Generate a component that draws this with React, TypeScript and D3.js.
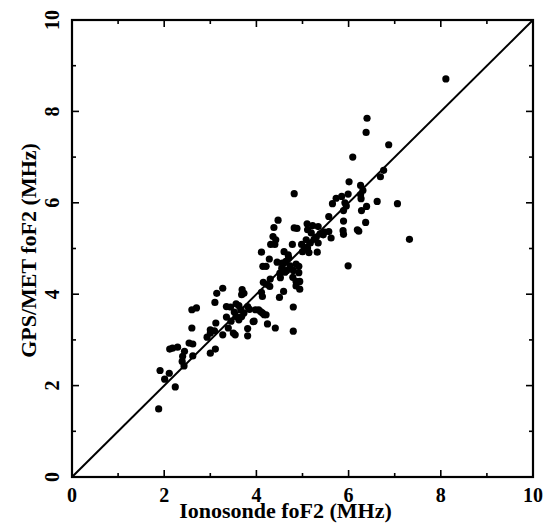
import * as d3 from 'd3';
import React, { useEffect, useRef } from 'react';

// ionosonde foF2 (MHz), x values
const ionosonde = [
  8.11, 6.40, 6.38, 6.87, 6.09, 6.69, 6.76, 6.01, 6.26, 6.31, 6.26, 6.27, 6.39, 6.62, 7.06, 7.32, 5.99,
  4.82, 5.99, 5.85, 5.73, 5.65, 5.92, 5.95, 5.89, 6.28, 5.57, 5.89, 6.37, 6.19, 6.22, 5.88, 5.89, 5.57,
  5.62, 5.48, 5.34, 5.38, 5.30, 5.22, 5.10, 5.11, 5.19, 5.08, 5.17, 5.34, 4.98, 5.11, 5.00, 5.14, 5.32,
  4.88, 4.47, 4.38, 4.36, 4.42, 4.31, 4.40, 4.78, 4.11, 4.60, 4.69, 4.28, 4.45, 4.14, 4.21, 4.56, 4.64,
  4.55, 4.73, 4.92, 4.86, 4.66, 4.80, 4.51, 4.92, 4.79, 4.52, 4.30, 4.15, 4.23, 4.86, 4.94, 4.86, 4.94,
  4.29, 4.59, 4.13, 4.11, 4.50, 4.80, 4.80, 4.41, 4.24, 4.13, 4.17, 4.05, 3.98, 4.09, 4.21, 3.95, 3.81,
  3.81, 3.93, 3.69, 3.73, 3.68, 3.27, 3.14, 3.10, 3.35, 3.44, 3.56, 3.62, 3.81, 3.85, 3.66, 3.52, 3.73,
  3.56, 3.68, 3.62, 3.35, 3.45, 3.39, 3.50, 3.54, 3.27, 3.12, 3.09, 3.00, 2.93, 3.00, 3.00, 3.11, 2.60,
  2.60, 2.70, 2.54, 2.62, 2.62, 2.29, 2.12, 2.18, 2.44, 2.40, 2.39, 2.43, 1.91, 2.01, 2.11, 2.24, 1.88,
  4.82, 5.05, 5.25, 5.45, 4.70, 4.62,
];

// GPS/MET foF2 (MHz), y values
const gpsMet = [
  8.71, 7.85, 7.54, 7.27, 7.00, 6.57, 6.71, 6.46, 6.38, 6.27, 6.18, 6.09, 5.92, 6.03, 5.98, 5.20, 4.62,
  6.20, 6.19, 6.14, 6.10, 5.98, 6.00, 5.93, 5.83, 5.83, 5.70, 5.60, 5.57, 5.41, 5.38, 5.39, 5.31, 5.37,
  5.23, 5.36, 5.48, 5.32, 5.25, 5.50, 5.54, 5.41, 5.34, 5.19, 5.12, 5.12, 5.09, 5.01, 4.93, 4.91, 4.92,
  5.44, 5.62, 5.46, 5.26, 5.19, 5.09, 5.09, 5.09, 4.92, 4.93, 4.86, 4.77, 4.70, 4.61, 4.61, 4.68, 4.72,
  4.57, 4.62, 4.61, 4.66, 4.52, 4.52, 4.46, 4.47, 4.37, 4.36, 4.33, 4.26, 4.21, 4.28, 4.28, 4.18, 4.11,
  4.17, 4.06, 3.95, 4.04, 3.93, 3.72, 3.19, 3.26, 3.35, 3.59, 3.55, 3.66, 3.66, 3.62, 3.55, 3.41, 3.25,
  3.09, 3.40, 4.10, 4.02, 3.99, 4.13, 4.02, 3.82, 3.73, 3.72, 3.79, 3.75, 3.73, 3.67, 3.66, 3.61, 3.59,
  3.51, 3.51, 3.44, 3.50, 3.41, 3.26, 3.15, 3.11, 3.11, 3.37, 3.20, 3.22, 3.06, 3.15, 2.71, 2.80, 3.26,
  3.66, 3.70, 2.93, 2.91, 2.65, 2.84, 2.80, 2.82, 2.75, 2.64, 2.53, 2.43, 2.33, 2.14, 2.27, 1.97, 1.49,
  5.45, 5.02, 5.20, 5.30, 4.80, 4.48,
];

const majorTicks = [0, 2, 4, 6, 8, 10];
const minorTicks = [1, 3, 5, 7, 9];

const xTitle = 'Ionosonde foF2 (MHz)';
const yTitle = 'GPS/MET foF2 (MHz)';

export default function App() {
  const ref = useRef<SVGSVGElement>(null);

  useEffect(() => {
    const W = 554;
    const H = 524;
    const margin = { top: 20, right: 21, bottom: 47, left: 72 };
    const width = W - margin.left - margin.right;
    const height = H - margin.top - margin.bottom;
    const font = "'Liberation Serif', serif";

    const root = d3.select(ref.current);
    root.selectAll('*').remove();
    const svg = root.append('g')
      .attr('transform', `translate(${margin.left},${margin.top})`);

    const x = d3.scaleLinear().domain([0, 10]).range([0, width]);
    const y = d3.scaleLinear().domain([0, 10]).range([height, 0]);

    // inward ticks on all four sides
    const tickSets = [
      { vals: majorTicks, len: 7 },
      { vals: minorTicks, len: 4 },
    ];
    const ticks = svg.append('g').attr('stroke', 'black').attr('stroke-width', 1.6);
    tickSets.forEach(t => {
      t.vals.forEach(v => {
        ticks.append('line').attr('x1', x(v)).attr('x2', x(v)).attr('y1', height).attr('y2', height - t.len);
        ticks.append('line').attr('x1', x(v)).attr('x2', x(v)).attr('y1', 0).attr('y2', t.len);
        ticks.append('line').attr('y1', y(v)).attr('y2', y(v)).attr('x1', 0).attr('x2', t.len);
        ticks.append('line').attr('y1', y(v)).attr('y2', y(v)).attr('x1', width).attr('x2', width - t.len);
      });
    });

    // frame
    svg.append('rect')
      .attr('width', width)
      .attr('height', height)
      .attr('fill', 'none')
      .attr('stroke', 'black')
      .attr('stroke-width', 2.2);

    // 1:1 line
    svg.append('line')
      .attr('x1', x(0)).attr('y1', y(0))
      .attr('x2', x(10)).attr('y2', y(10))
      .attr('stroke', 'black')
      .attr('stroke-width', 2);

    // points
    svg.append('g')
      .selectAll('circle')
      .data(ionosonde.map((v, i) => [v, gpsMet[i]]))
      .enter()
      .append('circle')
      .attr('cx', d => x(d[0]))
      .attr('cy', d => y(d[1]))
      .attr('r', 3.6)
      .attr('fill', 'black');

    // x tick labels
    svg.append('g')
      .selectAll('text')
      .data(majorTicks)
      .enter()
      .append('text')
      .attr('x', d => x(d))
      .attr('y', height + 25)
      .attr('text-anchor', 'middle')
      .attr('font-family', font)
      .attr('font-weight', 'bold')
      .attr('font-size', 20)
      .text(d => d);

    // y tick labels (rotated)
    svg.append('g')
      .selectAll('text')
      .data(majorTicks)
      .enter()
      .append('text')
      .attr('transform', d => `translate(-13,${y(d)})rotate(-90)`)
      .attr('text-anchor', 'middle')
      .attr('font-family', font)
      .attr('font-weight', 'bold')
      .attr('font-size', 20)
      .text(d => d);

    // axis titles
    svg.append('text')
      .attr('x', width / 2 - 17)
      .attr('y', height + 41)
      .attr('text-anchor', 'middle')
      .attr('font-family', font)
      .attr('font-weight', 'bold')
      .attr('font-size', 22)
      .text(xTitle);

    svg.append('text')
      .attr('transform', `translate(-36,${height / 2 + 2})rotate(-90)`)
      .attr('text-anchor', 'middle')
      .attr('font-family', font)
      .attr('font-weight', 'bold')
      .attr('font-size', 22)
      .text(yTitle);
  }, []);

  return (
    <svg
      ref={ref}
      width={554}
      height={524}
      style={{ position: 'absolute', left: 0, top: 0, background: 'white' }}
    />
  );
}
